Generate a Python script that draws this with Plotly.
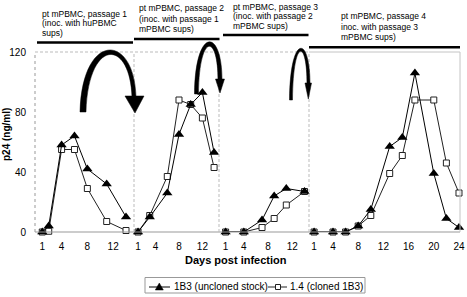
import plotly.graph_objects as go

# ---------------- data ----------------
days_p1 = [1, 2, 4, 6, 8, 11, 14]
uncloned_p1 = [0, 4, 58, 64, 42, 32, 10]
cloned_p1 = [0, 0.5, 55, 55, 29, 7, 1]

days_p2 = [1, 3, 6, 8, 10, 12, 14]
uncloned_p2 = [0, 10, 26, 65, 85, 93, 53]
cloned_p2 = [0, 11, 37, 88, 85, 76, 43]

days_p3 = [1, 4, 7, 9, 11, 14]
uncloned_p3 = [0, 0, 8, 24, 29, 27]
cloned_p3 = [0, 0, 3, 9, 18, 27]

days_p4 = [1, 4, 6, 8, 10, 13, 15, 17, 20, 22, 24]
uncloned_p4 = [0, 0, 0, 4, 15, 57, 63, 106, 39, 9, 3]
cloned_p4 = [0, 0, 0, 4, 11, 39, 51, 88, 88, 46, 26]

ticks_short = [1, 4, 8, 12]
ticks_long = [1, 4, 8, 12, 16, 20, 24]
y_ticks = [0, 40, 80, 120]

panel_titles = [
    ["pt mPBMC, passage 1", "(inoc. with huPBMC", "sups)"],
    ["pt mPBMC, passage 2", "(inoc. with passage 1", "mPBMC sups)"],
    ["pt mPBMC, passage 3", "(inoc. with passage 2", "mPBMC sups)"],
    ["pt mPBMC, passage 4", "inoc. with passage 3", "mPBMC sups)"],
]
name_uncloned = "1B3 (uncloned stock)"
name_cloned = "1.4 (cloned 1B3)"

# ---------------- geometry helpers ----------------
W, H = 467, 297
L, R, T, B = 35, 7, 52, 65
PW, PH = W - L - R, H - T - B


def fx(x):
    return (x - L) / PW


def fy(y):
    return (H - B - y) / PH


def path(*segs):
    out = []
    for s in segs:
        cmd, pts = s[0], s[1:]
        out.append(cmd + " " + " ".join(f"{fx(a):.5f},{fy(b):.5f}" for a, b in pts))
    return " ".join(out) + " Z"


FONT = "Liberation Sans, Arial, sans-serif"

panels = [
    (days_p1, uncloned_p1, cloned_p1, [0, fx(134)], [-0.13, 15.24], ticks_short),
    (days_p2, uncloned_p2, cloned_p2, [fx(134), fx(219)], [0.31, 14.84], ticks_short),
    (days_p3, uncloned_p3, cloned_p3, [fx(219), fx(309)], [-0.09, 14.74], ticks_short),
    (days_p4, uncloned_p4, cloned_p4, [fx(309), 1], [0.19, 24.16], ticks_long),
]

fig = go.Figure()
for i, (d, u, c, dom, rng, tv) in enumerate(panels):
    xa = "x" if i == 0 else f"x{i+1}"
    fig.add_trace(go.Scatter(
        x=d, y=c, xaxis=xa, yaxis="y", mode="lines+markers", name=name_cloned,
        showlegend=False, cliponaxis=False,
        line=dict(color="#222", width=1),
        marker=dict(symbol="square", size=6, color="white", line=dict(color="#222", width=1)),
    ))
    fig.add_trace(go.Scatter(
        x=d, y=u, xaxis=xa, yaxis="y", mode="lines+markers", name=name_uncloned,
        showlegend=False, cliponaxis=False,
        line=dict(color="black", width=1),
        marker=dict(symbol="triangle-up", size=9, color="black"),
    ))
    key = "xaxis" if i == 0 else f"xaxis{i+1}"
    fig.layout[key] = dict(
        domain=dom, range=rng, anchor="y", tickvals=tv, showgrid=False, zeroline=False,
        showline=False, ticks="outside", ticklen=5, tickcolor="rgba(0,0,0,0)",
        tickfont=dict(family=FONT, size=10, color="black"),
    )

fig.update_layout(
    width=W, height=H, margin=dict(l=L, r=R, t=T, b=B, autoexpand=False),
    paper_bgcolor="white", plot_bgcolor="white",
    yaxis=dict(range=[0, 120], tickvals=y_ticks, showgrid=False, zeroline=False,
               showline=False, ticks="outside", ticklen=6, tickcolor="rgba(0,0,0,0)",
               tickfont=dict(family=FONT, size=10, color="black")),
    showlegend=False,
)

shapes = []
grey = "#999"
# frame lines
shapes.append(dict(type="line", xref="paper", yref="paper", x0=fx(35), x1=fx(460), y0=fy(232), y1=fy(232),
                   line=dict(color=grey, width=1)))
shapes.append(dict(type="line", xref="paper", yref="paper", x0=fx(35), x1=fx(35), y0=fy(232), y1=fy(52),
                   line=dict(color=grey, width=1, dash="dot")))
for xv in (134, 219, 309):
    shapes.append(dict(type="line", xref="paper", yref="paper", x0=fx(xv), x1=fx(xv), y0=fy(232), y1=fy(52),
                       line=dict(color="#bbb", width=1, dash="3px,2px")))
shapes.append(dict(type="line", xref="paper", yref="paper", x0=fx(35), x1=fx(309), y0=fy(52), y1=fy(52),
                   line=dict(color="#bbb", width=1, dash="3px,2px")))
shapes.append(dict(type="line", xref="paper", yref="paper", x0=fx(309), x1=fx(460), y0=fy(52), y1=fy(52),
                   line=dict(color="#c4c4c4", width=1)))
shapes.append(dict(type="line", xref="paper", yref="paper", x0=fx(460), x1=fx(460), y0=fy(52), y1=fy(232),
                   line=dict(color="#c4c4c4", width=1)))
# header bars
for x0, x1, yv in ((37, 133, 42.5), (134, 219.5, 39), (223, 308.5, 35), (309, 460, 47.3)):
    shapes.append(dict(type="line", xref="paper", yref="paper", x0=fx(x0), x1=fx(x1), y0=fy(yv), y1=fy(yv),
                       line=dict(color="black", width=2.5)))
# curved arrows
arrows = [
    path(("M", (80, 112)), ("C", (82, 32), (134, 32), (136, 97)), ("L", (132, 97)),
         ("C", (130, 38), (88, 38), (86, 112))),
    path(("M", (125, 96)), ("L", (144, 96)), ("L", (135, 113))),
    path(("M", (194.5, 94)), ("C", (195, 27), (222, 27), (222, 80)), ("L", (218, 80)),
         ("C", (218, 33), (199, 33), (198.5, 94))),
    path(("M", (215.5, 79)), ("L", (224.5, 79)), ("L", (220, 93))),
    path(("M", (289.5, 100)), ("C", (290, 34), (310, 34), (310, 84)), ("L", (307, 84)),
         ("C", (307, 38), (293, 38), (292.5, 100))),
    path(("M", (305, 83)), ("L", (311.5, 83)), ("L", (308.3, 99))),
]
for p in arrows:
    shapes.append(dict(type="path", xref="paper", yref="paper", path=p,
                       fillcolor="black", line=dict(color="black", width=0.5)))

# legend (drawn box, keys and labels)
shapes.append(dict(type="rect", xref="paper", yref="paper", x0=fx(145), x1=fx(365), y0=fy(293), y1=fy(277.5),
                   line=dict(color="#999", width=1), fillcolor="rgba(0,0,0,0)"))
shapes.append(dict(type="line", xref="paper", yref="paper", x0=fx(149), x1=fx(170), y0=fy(287), y1=fy(287),
                   line=dict(color="black", width=1)))
shapes.append(dict(type="path", xref="paper", yref="paper",
                   path=path(("M", (155.3, 290)), ("L", (163.3, 290)), ("L", (159.3, 283))),
                   fillcolor="black", line=dict(color="black", width=0.5)))
shapes.append(dict(type="line", xref="paper", yref="paper", x0=fx(268), x1=fx(287), y0=fy(287), y1=fy(287),
                   line=dict(color="#222", width=1)))
shapes.append(dict(type="rect", xref="paper", yref="paper", x0=fx(275.5), x1=fx(280.5), y0=fy(289.5),
                   y1=fy(284.5), fillcolor="white", line=dict(color="#222", width=1)))
fig.update_layout(shapes=shapes)

annotations = []
title_pos = [(41, (13.5, 23.5, 33.5)), (137.5, (8, 18.5, 29)), (231.5, (6.5, 16, 25.5)), (339.5, (16, 26.5, 37))]
for (xv, ys), lines in zip(title_pos, panel_titles):
    for yv, txt in zip(ys, lines):
        annotations.append(dict(xref="paper", yref="paper", x=fx(xv), y=fy(yv), xanchor="left",
                                yanchor="middle", showarrow=False, text=txt, borderpad=0,
                                font=dict(family=FONT, size=8.5, color="black")))
annotations.append(dict(xref="paper", yref="paper", x=fx(236), y=fy(260), xanchor="center", yanchor="middle",
                        showarrow=False, text="<b>Days post infection</b>",
                        font=dict(family=FONT, size=11, color="black")))
annotations.append(dict(xref="paper", yref="paper", x=fx(6), y=fy(135), xanchor="center", yanchor="middle",
                        showarrow=False, textangle=-90, text="<b>p24 (ng/ml)</b>",
                        font=dict(family=FONT, size=10, color="black")))
annotations.append(dict(xref="paper", yref="paper", x=fx(171.5), y=fy(286.5), xanchor="left", yanchor="middle",
                        showarrow=False, text=name_uncloned,
                        font=dict(family=FONT, size=10, color="black")))
annotations.append(dict(xref="paper", yref="paper", x=fx(288), y=fy(286.5), xanchor="left", yanchor="middle",
                        showarrow=False, text=name_cloned,
                        font=dict(family=FONT, size=10, color="black")))
fig.update_layout(annotations=annotations)

fig.write_html("out.html")
